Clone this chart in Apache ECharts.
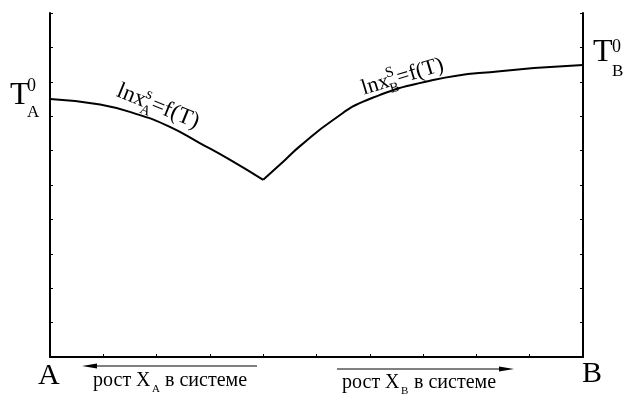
<!DOCTYPE html>
<html>
<head>
<meta charset="utf-8">
<script src="https://cdn.jsdelivr.net/npm/echarts@6/dist/echarts.min.js"></script>
<style>html,body{margin:0;padding:0;background:#fff}#c{width:624px;height:394px}</style>
</head>
<body>
<div id="c"></div>
<script>
// composition axis (A -> B), 10 divisions; temperature axis, 10 divisions
var xTicks = [0, 1, 2, 3, 4, 5, 6, 7, 8, 9, 10];
var yTicks = [0, 1, 2, 3, 4, 5, 6, 7, 8, 9, 10];
// liquidus branch lnx_A^s = f(T)
var branchA = [[0, 7.50], [0.94, 7.34], [1.69, 7.03], [2.25, 6.69], [2.81, 6.22], [3.38, 5.73], [4.0, 5.15]];
// liquidus branch lnx_B^S = f(T)
var branchB = [[4.0, 5.15], [4.41, 5.73], [4.69, 6.13], [5.31, 6.89], [5.95, 7.47], [7.19, 8.05], [8.44, 8.31], [10, 8.49]];

var FONT = '"Liberation Serif", "DejaVu Serif", serif';
function t(x, base, text, size) {
  return { type: 'text', x: x, y: base - 0.32 * size, style: { text: text, font: size + 'px ' + FONT, fill: '#000', verticalAlign: 'middle', align: 'left' } };
}
function arrowLine(x1, x2, y) {
  var dir = x2 > x1 ? 1 : -1;
  return [
    { type: 'line', shape: { x1: x1, y1: y, x2: x2 - dir * 8, y2: y }, style: { stroke: '#000', lineWidth: 1 } },
    { type: 'polygon', shape: { points: [[x2, y], [x2 - dir * 15, y - 2.5], [x2 - dir * 15, y + 2.5]] }, style: { fill: '#000' } }
  ];
}

var axisCommon = {
  type: 'value', min: 0, max: 10, interval: 1,
  axisLine: { show: true, onZero: false, lineStyle: { color: '#000', width: 2 } },
  axisTick: { show: true, inside: true, length: 3, lineStyle: { color: '#000', width: 1 } },
  axisLabel: { show: false },
  splitLine: { show: false }
};

var graphics = [
  // T_A^0
  t(10, 106, 'T', 32), t(27, 92, '0', 18), t(27, 118, 'A', 17),
  // T_B^0
  t(593, 63, 'T', 32), t(612, 53, '0', 18), t(612, 77, 'B', 17),
  // A and B
  t(38, 386, 'A', 30), t(582, 384, 'B', 30),
  // bottom captions
  t(93, 387, 'рост X', 20), t(152, 393, 'A', 11), t(165, 387, 'в системе', 20),
  t(342, 389, 'рост X', 20), t(401, 395, 'B', 11), t(414, 389, 'в системе', 20),
  {
    type: 'group', x: 115, y: 97, rotation: -22 * Math.PI / 180,
    children: [t(0, 0, 'lnx', 23), t(28, -10, 's', 16), t(28, 6, 'A', 14), t(37, 0, '=f(T)', 23)]
  },
  {
    type: 'group', x: 364, y: 96, rotation: 17 * Math.PI / 180,
    children: [t(0, 0, 'lnx', 22), t(27, -10, 'S', 15), t(27, 6, 'B', 14), t(37, 0, '=f(T)', 22)]
  }
].concat(arrowLine(257, 82, 366)).concat(arrowLine(337, 514, 369));

var chart = echarts.init(document.getElementById('c'), null, { renderer: 'canvas' });
chart.setOption({
  animation: false,
  backgroundColor: '#fff',
  grid: { left: 50, right: 41, top: 13, bottom: 37, containLabel: false },
  xAxis: Object.assign({}, axisCommon, { position: 'bottom' }),
  yAxis: [
    Object.assign({}, axisCommon, { position: 'left' }),
    Object.assign({}, axisCommon, { position: 'right' })
  ],
  series: [
    { type: 'line', data: branchA, smooth: 0.5, showSymbol: false, lineStyle: { color: '#000', width: 2 } },
    { type: 'line', data: branchB, smooth: 0.5, showSymbol: false, lineStyle: { color: '#000', width: 2 } }
  ],
  graphic: graphics
});
</script>
</body>
</html>
